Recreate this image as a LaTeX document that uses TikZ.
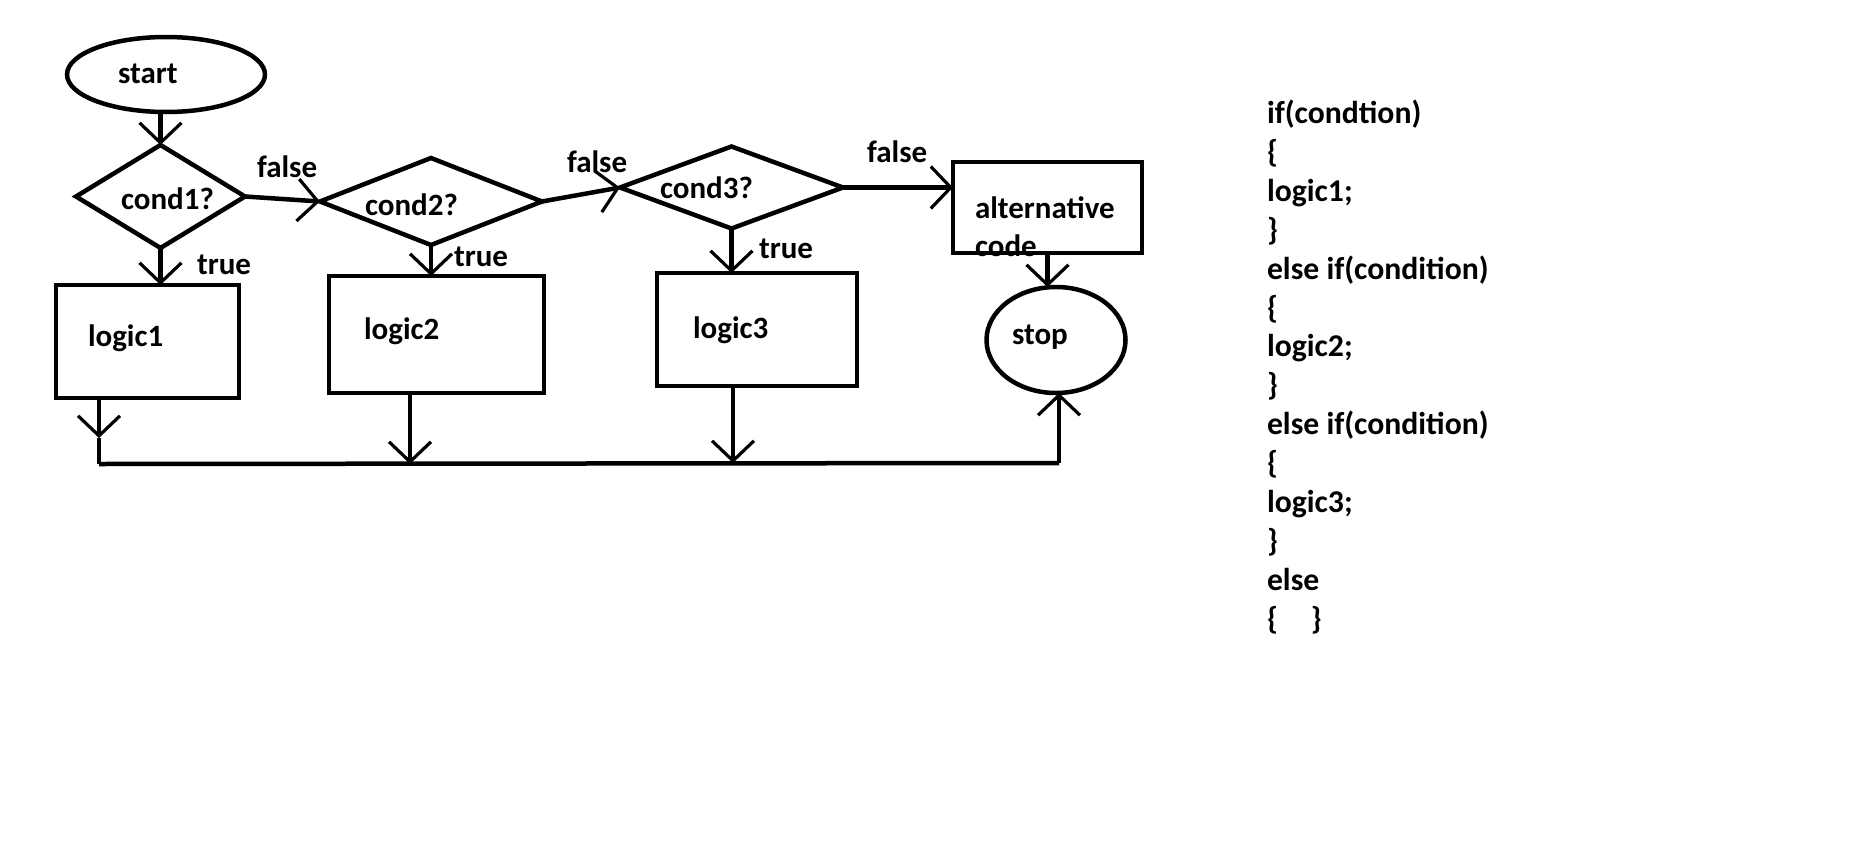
\documentclass[tikz,border=0pt]{standalone}
\usepackage{fontspec}
\setmainfont{Carlito}
\usetikzlibrary{shapes.geometric,arrows.meta}
\begin{document}
\begin{tikzpicture}[x=1pt,y=-1pt,
  every node/.style={inner sep=0pt, outer sep=0pt},
  outline/.style={draw, line width=4.5pt},
  lbl/.style={anchor=base west, font=\bfseries\fontsize{31}{37}\selectfont},
  codeline/.style={anchor=base west, font=\bfseries\fontsize{31.7}{38}\selectfont},
  wire/.style={line width=4.5pt},
  arr/.style={wire, -{Straight Barb[length=20pt,width=42pt,line width=3.2pt]}}]

\fill[white] (0,0) rectangle (1865,846);
\useasboundingbox (0,0) rectangle (1865,846);

% flowchart shapes
\node[outline, ellipse, minimum width=198, minimum height=75] (start) at (166,74.5) {};
\node[outline, diamond, minimum width=169, minimum height=103] (cond1) at (160.5,196.5) {};
\node[outline, diamond, minimum width=222, minimum height=87] (cond2) at (431,201.5) {};
\node[outline, diamond, minimum width=223, minimum height=82] (cond3) at (731.5,187.5) {};
\node[outline, rectangle, minimum width=183, minimum height=113] (logic1) at (147.5,341.5) {};
\node[outline, rectangle, minimum width=215, minimum height=117] (logic2) at (436.5,334.5) {};
\node[outline, rectangle, minimum width=200, minimum height=113] (logic3) at (757,329.5) {};
\node[outline, rectangle, minimum width=189, minimum height=91] (alt) at (1047.5,207.5) {};
\node[outline, ellipse, minimum width=139, minimum height=106] (stop) at (1056,340) {};

% texts inside the shapes
\node[lbl] (startT) at (118,83) {start};
\node[lbl] (cond1T) at (121,209) {cond1?};
\node[lbl] (cond2T) at (365,215) {cond2?};
\node[lbl] (cond3T) at (660,198) {cond3?};
\node[lbl] (logic1T) at (88,346) {logic1};
\node[lbl] (logic2T) at (364,339) {logic2};
\node[lbl] (logic3T) at (693,338) {logic3};
\node[lbl] (altT1) at (975,218) {alternative};
\node[lbl] (altT2) at (975,256) {code};
\node[lbl] (stopT) at (1012,344) {stop};

% branch labels
\node[lbl] (f1) at (257,177) {false};
\node[lbl] (f2) at (567,172) {false};
\node[lbl] (f3) at (867,162) {false};
\node[lbl] (t1) at (197,274) {true};
\node[lbl] (t2) at (454,266) {true};
\node[lbl] (t3) at (759,258) {true};

% joining line below the logic boxes
\coordinate (b1) at (99,464);
\coordinate (b2) at (410,464);
\coordinate (b3) at (733,463);
\coordinate (b4) at (1059,463);
\coordinate (h1) at (99,438);

% connectors
\draw[arr] (cond1.north |- start.south) -- (cond1.north);
\draw[arr] (cond1.east) -- (cond2.west);
\draw[arr] (cond2.east) -- (cond3.west);
\draw[arr] (cond3.east) -- (cond3.east -| alt.west);
\draw[arr] (cond1.south) -- (cond1.south |- logic1.north);
\draw[arr] (cond2.south) -- (cond2.south |- logic2.north);
\draw[arr] (cond3.south) -- (cond3.south |- logic3.north);
\draw[arr] (alt.south) -- (alt.south |- stop.north);
\draw[arr] (logic1.south -| h1) -- (h1);
\draw[wire] (h1) -- (b1);
\draw[arr] (logic2.south -| b2) -- (b2);
\draw[arr] (logic3.south -| b3) -- (b3);
\draw[wire] (b1) -- (b4);
\draw[arr] (b4) -- (b4 |- stop.south);

% code listing
\node[codeline] (c0) at (1267,123.5) {if(condtion)};
\node[codeline] (c1) at (1267,162.4) {\{};
\node[codeline] (c2) at (1267,201.3) {logic1;};
\node[codeline] (c3) at (1267,240.2) {\}};
\node[codeline] (c4) at (1267,279.1) {else if(condition)};
\node[codeline] (c5) at (1267,318) {\{};
\node[codeline] (c6) at (1267,356.9) {logic2;};
\node[codeline] (c7) at (1267,395.8) {\}};
\node[codeline] (c8) at (1267,434.7) {else if(condition)};
\node[codeline] (c9) at (1267,473.6) {\{};
\node[codeline] (c10) at (1267,512.5) {logic3;};
\node[codeline] (c11) at (1267,551.4) {\}};
\node[codeline] (c12) at (1267,590.3) {else};
\node[codeline] (c13) at (1267,629.2) {\{\hspace{33pt}\}};
\end{tikzpicture}
\end{document}
